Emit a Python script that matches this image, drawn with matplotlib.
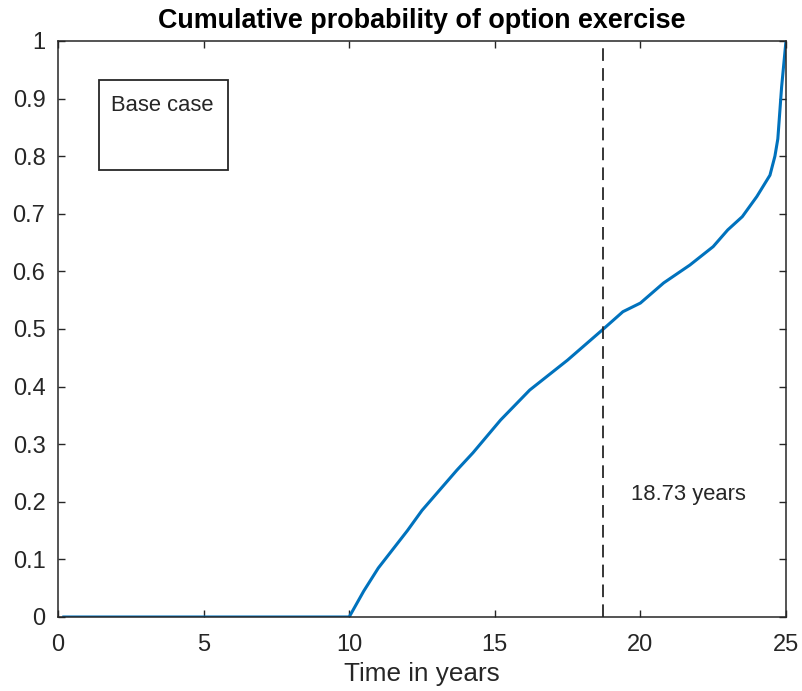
import matplotlib
matplotlib.use("Agg")
import matplotlib.pyplot as plt
from matplotlib.patches import Rectangle

plt.rcParams['font.family'] = ['Liberation Sans', 'DejaVu Sans']

# Cumulative probability of exercise over time (years)
years = [0.2, 10.0, 10.5, 11.0, 11.4, 12.0, 12.5, 13.1, 13.7, 14.25, 15.2,
         16.2, 16.6, 17.5, 18.73, 19.4, 20.0, 20.8, 21.7, 22.5, 23.0, 23.5,
         24.0, 24.45, 24.62, 24.72, 24.85, 25.0]
prob = [0.0, 0.0, 0.045, 0.085, 0.111, 0.15, 0.185, 0.22, 0.255, 0.285, 0.342,
        0.394, 0.41, 0.446, 0.5, 0.53, 0.545, 0.58, 0.611, 0.643, 0.672, 0.695,
        0.73, 0.767, 0.80, 0.83, 0.92, 1.0]

median_year = 18.73
x_ticks = [0, 5, 10, 15, 20, 25]
y_ticks = [0, 0.1, 0.2, 0.3, 0.4, 0.5, 0.6, 0.7, 0.8, 0.9, 1.0]
y_tick_labels = ['0', '0.1', '0.2', '0.3', '0.4', '0.5', '0.6', '0.7', '0.8', '0.9', '1']

axis_color = (0.15, 0.15, 0.15)

fig = plt.figure(figsize=(8.03, 6.91), dpi=100)
ax = fig.add_axes([0.0722, 0.1071, 0.9066, 0.8336])

ax.plot(years, prob, color=(0.0, 0.447, 0.741), linewidth=2.2)
ax.axvline(median_year, color=axis_color, linestyle=(0, (7, 4)), linewidth=1.3)

ax.set_xlim(0, 25)
ax.set_ylim(0, 1)
ax.set_xticks(x_ticks)
ax.set_yticks(y_ticks)
ax.set_yticklabels(y_tick_labels)
ax.tick_params(direction='in', length=5, width=1.0, colors=axis_color,
               labelsize=17, top=True, right=True)
ax.tick_params(axis='x', pad=12.5)
ax.tick_params(axis='y', pad=9.0)
for lab in ax.get_xticklabels() + ax.get_yticklabels():
    lab.set_color(axis_color)
for s in ax.spines.values():
    s.set_color(axis_color)
    s.set_linewidth(1.1)

ax.set_title('Cumulative probability of option exercise', fontsize=19.4,
             fontweight='bold', color='black', pad=9)
ax.set_xlabel('Time in years', fontsize=18.8, color=axis_color, labelpad=4)

# Annotation box in the upper left
ax.add_patch(Rectangle((1.41, 0.776), 4.43, 0.156, fill=False,
                       edgecolor=axis_color, linewidth=1.3))
ax.text(1.82, 0.888, 'Base case', fontsize=15.8, color=axis_color,
        ha='left', va='center')

ax.text(21.65, 0.213, f'{median_year:.2f} years', fontsize=15.8,
        color=axis_color, ha='center', va='center')

fig.savefig('out.png', dpi=100)
